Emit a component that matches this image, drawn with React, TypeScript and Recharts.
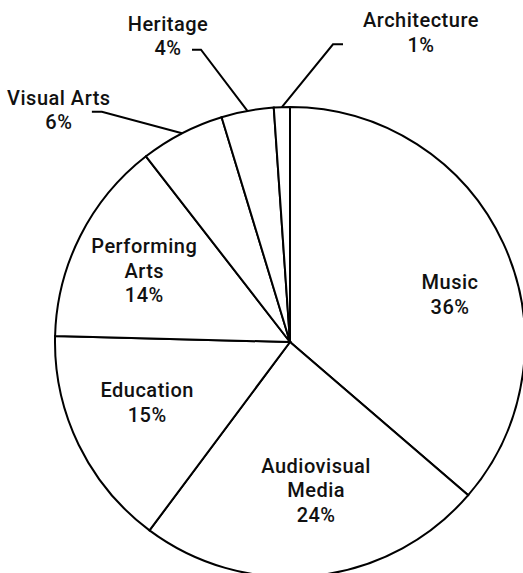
import React from 'react';
import { PieChart, Pie, Cell } from 'recharts';

const categories = ['Music', 'Audiovisual Media', 'Education', 'Performing Arts', 'Visual Arts', 'Heritage', 'Architecture'];
const shares = [36.3, 23.9, 15.2, 14.1, 5.8, 3.6, 1.1];

const data = categories.map((name, i) => ({ name, value: shares[i] }));

const W = 523;
const H = 573;
const CX = 290;
const CY = 342;
const R = 235;
const FONT = 'Roboto, sans-serif';
const FS = 20;
const LH = 24.5;

// label layout tweaks (angles in degrees clockwise from 12 o'clock offsets)
const insideLayout: Record<string, { dAngle: number; rf: number }> = {
  'Music': { dAngle: 8.2, rf: 0.71 },
  'Audiovisual Media': { dAngle: -3.7, rf: 0.64 },
  'Education': { dAngle: 3, rf: 0.66 },
  'Performing Arts': { dAngle: -0.8, rf: 0.69 },
};
const outsideLayout: Record<string, { dAngle: number; rf: number; h: number; tx: number; ty: number }> = {
  'Visual Arts': { dAngle: -11.9, rf: 1.265, h: -10, tx: -33, ty: -14 },
  'Heritage': { dAngle: -6.5, rf: 1.30, h: -9, tx: -24, ty: -26 },
  'Architecture': { dAngle: 10.2, rf: 1.28, h: 10, tx: 78, ty: -24 },
};

const RAD = Math.PI / 180;

const textStyle = { letterSpacing: '0.5px' };

const renderLabel = (props: any) => {
  const { cx, cy, midAngle, outerRadius, percent, name } = props;
  const pct = `${Math.round(percent * 100)}%`;
  const cw = 90 - midAngle; // clockwise from top
  const pt = (angleCw: number, r: number) => ({
    x: cx + r * Math.sin(angleCw * RAD),
    y: cy - r * Math.cos(angleCw * RAD),
  });
  if (insideLayout[name]) {
    const L = insideLayout[name];
    const c = pt(cw + L.dAngle, outerRadius * L.rf);
    const lines = [...name.split(' '), pct];
    const y0 = c.y - ((lines.length - 1) * LH) / 2;
    return (
      <text x={c.x} y={y0} textAnchor="middle" dominantBaseline="central" fontFamily={FONT} fontSize={FS} fontWeight={500} fill="#111" style={textStyle}>
        {lines.map((l, i) => (
          <tspan key={i} x={c.x} y={y0 + i * LH}>{l}</tspan>
        ))}
      </text>
    );
  }
  const L = outsideLayout[name];
  if (!L) return null;
  const s = pt(cw, outerRadius);
  const e = pt(cw + L.dAngle, outerRadius * L.rf);
  const hx = e.x + L.h;
  const tx = hx + L.tx;
  const ty = e.y + L.ty;
  return (
    <g>
      <polyline points={`${s.x},${s.y} ${e.x},${e.y} ${hx},${e.y}`} fill="none" stroke="#000" strokeWidth={2} />
      <text x={tx} y={ty} textAnchor="middle" dominantBaseline="central" fontFamily={FONT} fontSize={FS} fontWeight={500} fill="#111" style={textStyle}>
        <tspan x={tx} y={ty}>{name}</tspan>
        <tspan x={tx} y={ty + LH}>{pct}</tspan>
      </text>
    </g>
  );
};

export default function App() {
  return (
    <div style={{ position: 'fixed', left: 0, top: 0, width: W, height: H, overflow: 'hidden', background: '#fff' }}>
      <PieChart width={W} height={H} margin={{ top: 0, right: 0, bottom: 0, left: 0 }}>
        <Pie
          data={data}
          dataKey="value"
          nameKey="name"
          cx={CX}
          cy={CY}
          outerRadius={R}
          startAngle={90}
          endAngle={-270}
          isAnimationActive={false}
          label={renderLabel}
          labelLine={false}
          stroke="#000"
          strokeWidth={2}
        >
          {data.map((d) => (
            <Cell key={d.name} fill="#fff" />
          ))}
        </Pie>
      </PieChart>
    </div>
  );
}
